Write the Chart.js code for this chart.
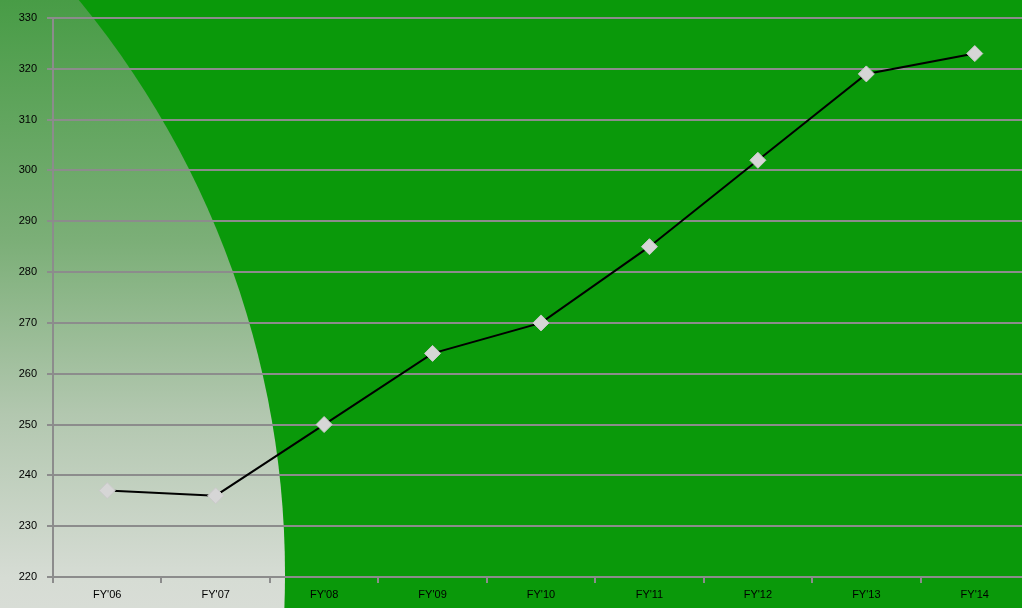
<!DOCTYPE html>
<html>
<head>
<meta charset="utf-8">
<script src="https://cdn.jsdelivr.net/npm/chart.js@4.4.1/dist/chart.umd.min.js"></script>
<style>
  html, body { margin: 0; padding: 0; overflow: hidden; background: #0a990a; }
  #wrap { width: 1038px; height: 608px; }
</style>
</head>
<body>
<div id="wrap"><canvas id="trendChart" width="1038" height="608"></canvas></div>
<script>
// yearly figures
const years = ["FY'06", "FY'07", "FY'08", "FY'09", "FY'10", "FY'11", "FY'12", "FY'13", "FY'14"];
const values = [237, 236, 250, 264, 270, 285, 302, 319, 323];
const yMin = 220;
const yMax = 330;
const yStep = 10;

const gridGray = '#8c8c8c';

// green backdrop with the pale quarter-circle glow in the lower left
const backdrop = {
    id: 'backdrop',
    beforeDraw(chart) {
        const ctx = chart.ctx;
        const w = chart.width, h = chart.height;
        ctx.save();
        ctx.fillStyle = '#0a990a';
        ctx.fillRect(0, 0, w, h);
        ctx.beginPath();
        ctx.arc(-617, 574, 902, 0, Math.PI * 2);
        ctx.clip();
        const g = ctx.createLinearGradient(0, 0, 0, h);
        g.addColorStop(0, '#489c46');
        g.addColorStop(0.4, '#7caf78');
        g.addColorStop(0.68, '#b2c7af');
        g.addColorStop(0.95, '#d6dcd4');
        g.addColorStop(1, '#d8ddd6');
        ctx.fillStyle = g;
        ctx.fillRect(0, 0, w, h);
        ctx.restore();
    }
};

const ctx = document.getElementById('trendChart').getContext('2d');
new Chart(ctx, {
    type: 'line',
    data: {
        labels: years,
        datasets: [{
            data: values,
            borderColor: '#000000',
            borderWidth: 2,
            pointStyle: 'rectRot',
            pointRadius: 8,
            pointBackgroundColor: '#d6d6d6',
            pointBorderColor: '#cacaca',
            pointBorderWidth: 1,
            tension: 0
        }]
    },
    options: {
        responsive: false,
        animation: false,
        layout: { padding: { top: 18, right: 2, left: 0, bottom: 0 } },
        plugins: {
            legend: { display: false },
            tooltip: { enabled: false }
        },
        scales: {
            x: {
                offset: true,
                grid: {
                    offset: true,
                    drawOnChartArea: false,
                    drawTicks: true,
                    tickLength: 6,
                    color: gridGray,
                    lineWidth: 2
                },
                border: { color: gridGray, width: 2 },
                ticks: {
                    color: '#000',
                    padding: 5,
                    maxRotation: 0,
                    font: { family: 'Liberation Sans, Arial, sans-serif', size: 11 }
                },
                afterFit(scale) { scale.height = 31; }
            },
            y: {
                min: yMin,
                max: yMax,
                grid: {
                    color: gridGray,
                    lineWidth: 2,
                    tickLength: 6
                },
                border: { color: gridGray, width: 2 },
                ticks: {
                    stepSize: yStep,
                    color: '#000',
                    padding: 10,
                    font: { family: 'Liberation Sans, Arial, sans-serif', size: 11 }
                },
                afterFit(scale) { scale.width = 53; }
            }
        }
    },
    plugins: [backdrop]
});
</script>
</body>
</html>
